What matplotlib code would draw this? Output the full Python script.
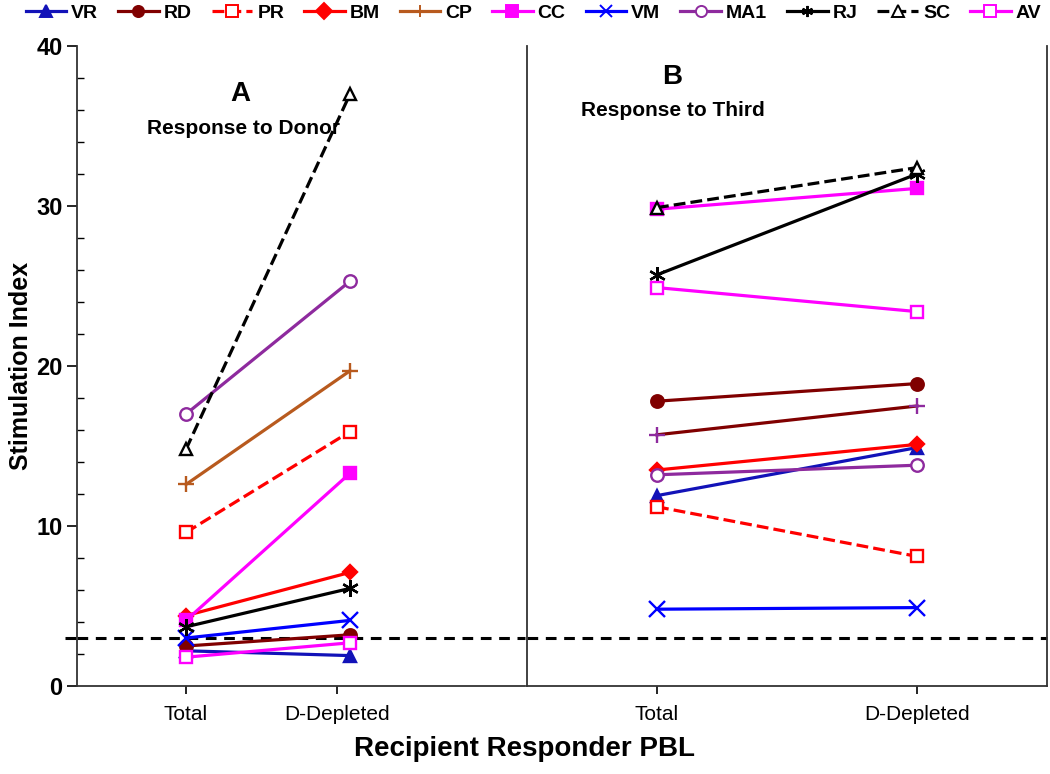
import numpy as np
import matplotlib
matplotlib.use("Agg")
from matplotlib import pyplot as plt
from matplotlib.lines import Line2D

plt.rcParams['font.family'] = ['Liberation Sans', 'DejaVu Sans']
plt.rcParams['font.weight'] = 'bold'

# data
names = ['VR', 'RD', 'PR', 'BM', 'CP', 'CC', 'VM', 'MA1', 'RJ', 'SC', 'AV']
categories = ['Total', 'D-Depleted']
donor_total = [2.2, 2.5, 9.6, 4.4, 12.6, 4.1, 3.0, 17.0, 3.7, 14.8, 1.8]
donor_depl = [1.9, 3.2, 15.9, 7.1, 19.7, 13.3, 4.1, 25.3, 6.1, 37.0, 2.7]
third_total = [11.9, 17.8, 11.2, 13.5, 15.7, 29.8, 4.8, 13.2, 25.7, 29.9, 24.9]
third_depl = [14.9, 18.9, 8.1, 15.1, 17.5, 31.1, 4.9, 13.8, 32.0, 32.4, 23.4]
cutoff = 3.0

# styles: color, marker, linestyle, filled
styles = {
    'VR': ('#1212B8', '^', '-', True),
    'RD': ('#800000', 'o', '-', True),
    'PR': ('#FF0000', 's', '--', False),
    'BM': ('#FF0000', 'D', '-', True),
    'CP': ('#B85A1E', '+', '-', True),
    'CC': ('#FF00FF', 's', '-', True),
    'VM': ('#0000FF', 'x', '-', True),
    'MA1': ('#8E2A9E', 'o', '-', False),
    'RJ': ('#000000', (6, 2, 0), '-', True),
    'SC': ('#000000', '^', '--', False),
    'AV': ('#FF00FF', 's', '-', False),
}


def draw(ax, t, d, third=False):
    xs = np.arange(len(categories))
    for i, n in enumerate(names):
        c, m, ls, filled = styles[n]
        mc = c
        if third and n == 'CP':
            c, mc = '#800000', '#8E2A9E'
        ms = 9 if m != 'D' else 7
        if m in ('+', 'x', (6, 2, 0)):
            ms = 12
        ax.plot(xs, [t[i], d[i]], color=c, ls=ls, lw=2.3,
                marker=m, ms=ms, mec=mc, mew=1.7,
                mfc=mc if filled else 'white', zorder=3)


fig = plt.figure(figsize=(10.5, 7.74), dpi=100)
axA = fig.add_axes([77 / 1050, 1 - 686 / 774, 448 / 1050, 640 / 774])
axB = fig.add_axes([527 / 1050, 1 - 686 / 774, 520 / 1050, 640 / 774])

draw(axA, donor_total, donor_depl)
draw(axB, third_total, third_depl, third=True)

axA.set_xlim(-0.665, 2.067)
axB.set_xlim(-0.5, 1.5)
for ax in (axA, axB):
    ax.set_ylim(0, 40)
    ax.set_yticks(np.arange(0, 41, 10))
    ax.set_yticks(np.arange(0, 41, 2), minor=True)
    ax.spines['top'].set_visible(False)
    ax.spines['right'].set_visible(False)
    ax.spines['left'].set_color('#333333')
    ax.spines['bottom'].set_color('#333333')
    ax.spines['left'].set_linewidth(1.3)
    ax.spines['bottom'].set_linewidth(1.3)
    ax.tick_params(axis='y', which='major', direction='out', length=7, width=1.2)
    ax.tick_params(axis='y', which='minor', direction='in', length=5, width=1)
    ax.tick_params(axis='x', direction='out', length=6, width=1.2,
                   labelsize=15, pad=8)
    ax.axhline(cutoff, color='black', ls=(0, (3.5, 2.5)), lw=2.2, zorder=2,
               clip_on=False)

axA.set_xticks([0, 0.92])
axA.set_xticklabels(categories, fontweight='normal', fontsize=15)
axB.set_xticks([0, 1])
axB.set_xticklabels(categories, fontweight='normal', fontsize=15)
axB.set_yticklabels([])
axB.tick_params(axis='y', which='both', length=0)
axB.spines['right'].set_visible(True)
axB.spines['right'].set_color('#333333')
axB.spines['right'].set_linewidth(1.3)

axA.tick_params(axis='y', labelsize=17)
axA.set_ylabel('Stimulation Index', fontsize=18, fontweight='bold', labelpad=2)

# extend dashed cutoff line into the left margin
fig.add_artist(Line2D([65 / 1050, 77 / 1050], [1 - 638 / 774] * 2,
                      color='black', lw=2.2, ls=(0, (3.5, 2.5))))

axA.text(0.365, 0.925, 'A', transform=axA.transAxes, fontsize=20,
         fontweight='bold', ha='center', va='center')
axA.text(0.372, 0.871, 'Response to Donor', transform=axA.transAxes,
         fontsize=15, fontweight='bold', ha='center', va='center')
axB.text(0.28, 0.952, 'B', transform=axB.transAxes, fontsize=20,
         fontweight='bold', ha='center', va='center')
axB.text(0.28, 0.9, 'Response to Third', transform=axB.transAxes,
         fontsize=15, fontweight='bold', ha='center', va='center')

fig.text(0.5, 1 - 749 / 774, 'Recipient Responder PBL', fontsize=20,
         fontweight='bold', ha='center', va='center')

handles = []
for n in names:
    c, m, ls, filled = styles[n]
    handles.append(Line2D([], [], color=c, ls=ls, lw=2.3, marker=m, ms=8,
                          mec=c, mew=1.4, mfc=c if filled else 'white'))
fig.legend(handles, names, loc='center', bbox_to_anchor=(0.508, 1 - 13 / 774),
           ncol=11, frameon=False, handlelength=2.1,
           handletextpad=0.25, columnspacing=1.02,
           prop={'weight': 'bold', 'size': 14})

fig.savefig('out.png', dpi=100)
